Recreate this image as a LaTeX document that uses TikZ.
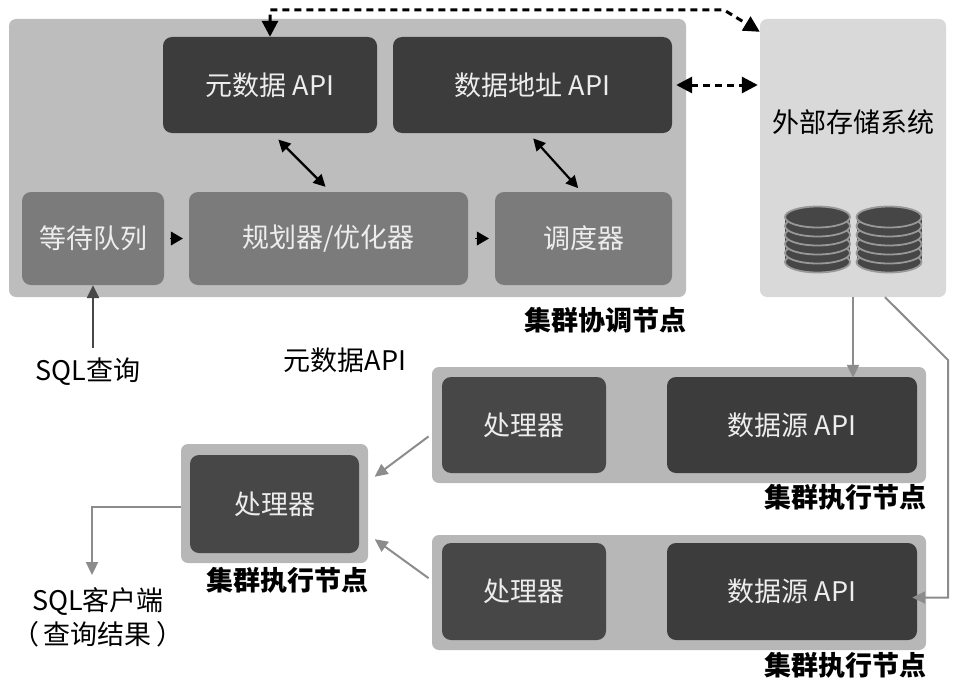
\documentclass[tikz,border=0pt]{standalone}
\usepackage{fontspec}
\setmainfont{Noto Sans CJK SC}
\usetikzlibrary{arrows.meta}
\definecolor{panelgray}{HTML}{BDBDBD}
\definecolor{execgray}{HTML}{B7B7B7}
\definecolor{storegray}{HTML}{D9D9D9}
\definecolor{darkbox}{HTML}{3C3C3C}
\definecolor{procbox}{HTML}{474747}
\definecolor{midbox}{HTML}{7B7B7B}
\definecolor{linkgray}{HTML}{8C8C8C}
\tikzset{
  panel/.style={fill=#1, rounded corners=7pt, inner sep=0pt},
  cell/.style={fill=#1, text=white!93!black, rounded corners=9pt, inner sep=0pt,
    font=\fontsize{27}{32}\selectfont},
  plain/.style={font=\fontsize{27}{34}\selectfont, inner sep=2pt},
  tag/.style={font=\bfseries\fontsize{27}{32}\selectfont, inner sep=0pt},
  link/.style={draw=linkgray, line width=2pt, -{Triangle[length=13pt,width=12pt]}},
  twoway/.style={black, line width=2.2pt, {Triangle[length=12pt,width=12pt]}-{Triangle[length=12pt,width=12pt]}},
  dashlink/.style={black, line width=3pt, dash pattern=on 7pt off 5pt,
    {Triangle[length=16pt,width=16pt]}-{Triangle[length=16pt,width=16pt]}},
}
\def\diskstack(#1,#2){%
  \fill[darkbox!95!white] (#1-32.5,#2) rectangle (#1+32.5,#2+45);
  \foreach \k in {5,4,...,0}
    \draw[fill=darkbox!95!white, draw=storegray!70!black, line width=1.8pt]
      (#1,#2+9*\k) ellipse [x radius=32.5pt, y radius=10.5pt];
}

\begin{document}
\begin{tikzpicture}[x=1pt,y=-1pt]
  %%%%% START %%%%%
  \useasboundingbox (0,0) rectangle (958,685);

  % cluster coordinator
  \node[panel=panelgray, minimum width=677pt, minimum height=278pt] (coord) at (347.5,158) {};
  \node[cell=darkbox, minimum width=214pt, minimum height=96pt] (meta) at (270,85) {元数据 API};
  \node[cell=darkbox, minimum width=279pt, minimum height=96pt] (addr) at (532.5,85) {数据地址 API};
  \node[cell=midbox, minimum width=142pt, minimum height=93pt] (queue) at (93,238.5) {等待队列};
  \node[cell=midbox, minimum width=279pt, minimum height=93pt] (planner) at (328.5,238.5) {规划器/优化器};
  \node[cell=midbox, minimum width=177pt, minimum height=93pt] (sched) at (583.5,238.5) {调度器};
  \node[tag, anchor=east] at ([yshift=-23pt]coord.south east) {集群协调节点};

  % external storage
  \node[panel=storegray, minimum width=186pt, minimum height=278pt] (store) at (853,158) {};
  \node[plain] (storetext) at (853,122) {外部存储系统};
  \diskstack(817.5,217)
  \diskstack(889,217)

  % worker nodes
  \node[panel=execgray, minimum width=494pt, minimum height=116pt] (exec1) at (679,425) {};
  \node[cell=procbox, minimum width=164pt, minimum height=96pt] (proc1) at (524,425) {处理器};
  \node[cell=darkbox, minimum width=250pt, minimum height=96pt] (ds1) at (792,425) {数据源 API};
  \node[tag, anchor=east] at ([yshift=-14pt]exec1.south east) {集群执行节点};

  \node[panel=execgray, minimum width=494pt, minimum height=115pt] (exec2) at (679,592.5) {};
  \node[cell=procbox, minimum width=164pt, minimum height=97pt] (proc2) at (524,591.5) {处理器};
  \node[cell=darkbox, minimum width=250pt, minimum height=97pt] (ds2) at (792,591.5) {数据源 API};
  \node[tag, anchor=east] at ([yshift=-15pt]exec2.south east) {集群执行节点};

  \node[panel=execgray, minimum width=187pt, minimum height=119pt] (exec0) at (274.5,503.5) {};
  \node[cell=procbox, minimum width=169pt, minimum height=98pt] (proc0) at (274.5,504) {处理器};
  \node[tag, anchor=east] at ([yshift=-17pt]exec0.south east) {集群执行节点};

  % free texts
  \node[plain] (sqlq) at (88,372) {SQL查询};
  \node[plain] (metatext) at (345,360) {元数据API};
  \node[plain, align=center] (client) at (98,617) {SQL客户端\\（\,查询结果\,）};

  % connectors
  \draw[-{Triangle[length=12pt,width=14pt]}, line width=0.4pt, shorten <=6pt, shorten >=6pt] (queue) -- (planner);
  \draw[-{Triangle[length=12pt,width=14pt]}, line width=0.4pt, shorten <=7pt, shorten >=6pt] (planner) -- (sched);
  \draw[twoway, shorten <=9pt, shorten >=7pt] ([xshift=2pt]meta.south) -- ([xshift=2pt]planner.north);
  \draw[twoway, shorten <=7pt, shorten >=5pt] ([xshift=-4pt]addr.south) -- ([xshift=-2pt]sched.north);
  \draw[link, draw=black!72, line width=2.4pt, shorten <=8pt] (queue.south |- sqlq.north) -- (queue.south);

  \coordinate (hop) at (724,10);
  \draw[dashlink] (meta.north) |- (hop) -- ([yshift=-13pt]store.north west);
  \draw[dashlink, shorten <=4pt, shorten >=2pt] (addr.east) -- (store.west |- addr.east);

  \draw[link, shorten >=-1pt] (store.south) -- (store.south |- ds1.north);
  \coordinate (bend) at (948,360);
  \draw[link, shorten >=-5pt] ([xshift=32pt]store.south) -- (bend) |- ([yshift=-6pt]ds2.east);

  \draw[link, shorten <=4pt, shorten >=8pt] ([yshift=-9pt]exec1.west) -- ([yshift=22pt]exec0.east);
  \draw[link, shorten <=4pt, shorten >=8pt] ([yshift=12pt]exec2.west) -- ([yshift=-31pt]exec0.east);
  \draw[link, shorten >=10pt] ([yshift=-3pt]exec0.west) -| ([xshift=-6pt]client.north);
  %%%%% END %%%%%
\end{tikzpicture}
\end{document}
